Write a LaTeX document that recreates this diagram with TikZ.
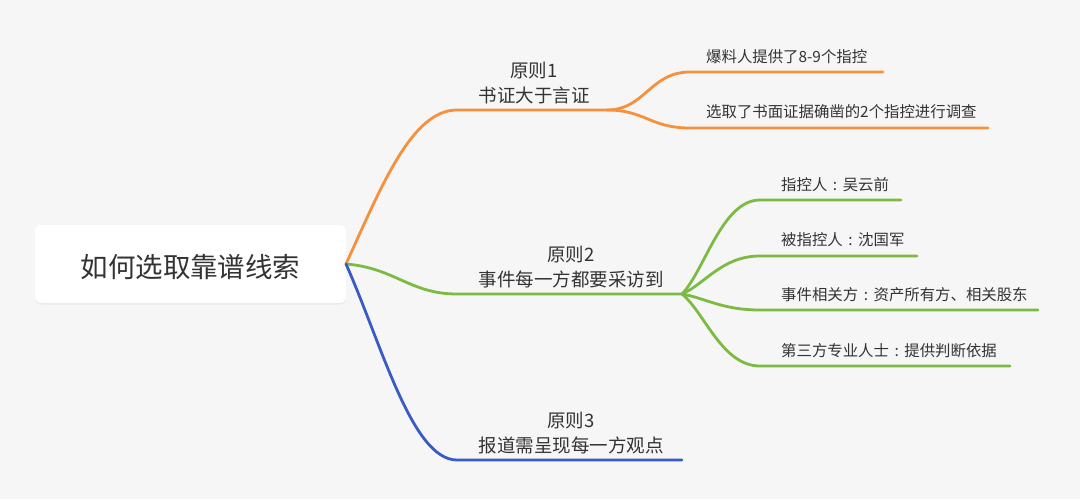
\documentclass[tikz,border=0pt]{standalone}
\usepackage{fontspec}
\setmainfont{Noto Sans CJK SC}
\usetikzlibrary{shadows}
\definecolor{bg}{HTML}{F6F6F6}
\definecolor{txt}{HTML}{333333}
\definecolor{cor}{HTML}{F7903D}
\definecolor{cgr}{HTML}{7CBB43}
\definecolor{cbl}{HTML}{3A5AC4}
\newcommand\zcolon{\makebox[1em][c]{:}}
\tikzset{
  branch/.style={line width=2.8pt, line cap=round},
  rootbox/.style={fill=white, rounded corners=6pt, minimum width=311pt, minimum height=78pt, inner sep=0pt,
    drop shadow={opacity=0.10, shadow xshift=0pt, shadow yshift=-1.5pt}},
  roottext/.style={font=\fontsize{27.5}{32}\selectfont, text=txt},
  ptext/.style={font=\fontsize{18.5}{25}\selectfont, text=txt, align=center, inner sep=0pt},
  stext/.style={font=\fontsize{15.4}{18}\selectfont, text=txt, anchor=west, inner sep=0pt},
}
\begin{document}
\begin{tikzpicture}[x=1pt,y=-1pt]
\useasboundingbox (0,0) rectangle (1080,499);
\fill[bg] (0,0) rectangle (1080,499);
% root
\node[rootbox] (root) at (190.5,264) {};
\node[roottext] (roott) at (190.5,267) {如何选取靠谱线索};
\coordinate (r) at (346,264);
% principle 1
\coordinate (p1a) at (457,110);
\coordinate (p1b) at (607,110);
\draw[branch,cor] (r) .. controls (382,185) and (412,110) .. (p1a) -- (p1b);
\node[ptext] (p1) at (534,83) {原则1\\书证大于言证};
\coordinate (s1a) at (690,72);
\coordinate (s1ae) at (883,72);
\coordinate (s1b) at (690,128);
\coordinate (s1be) at (988,128);
\draw[branch,cor] (p1b) .. controls (645,110) and (650,72) .. (s1a) -- (s1ae);
\draw[branch,cor] (p1b) .. controls (645,110) and (650,128) .. (s1b) -- (s1be);
\node[stext] (t11) at (706,57) {爆料人提供了8-9个指控};
\node[stext] (t12) at (706,112) {选取了书面证据确凿的2个指控进行调查};
% principle 2
\coordinate (p2a) at (457,294);
\coordinate (p2b) at (682,294);
\draw[branch,cgr] (r) .. controls (395,268) and (410,294) .. (p2a) -- (p2b);
\node[ptext] (p2) at (571,267) {原则2\\事件每一方都要采访到};
\coordinate (g1) at (760,200);  \coordinate (g1e) at (901,200);
\coordinate (g2) at (760,256);  \coordinate (g2e) at (917,256);
\coordinate (g3) at (760,310);  \coordinate (g3e) at (1038,310);
\coordinate (g4) at (760,366);  \coordinate (g4e) at (1010,366);
\draw[branch,cgr] (p2b) .. controls (705,270) and (722,200) .. (g1) -- (g1e);
\draw[branch,cgr] (p2b) .. controls (705,284) and (722,256) .. (g2) -- (g2e);
\draw[branch,cgr] (p2b) .. controls (705,298) and (722,310) .. (g3) -- (g3e);
\draw[branch,cgr] (p2b) .. controls (705,313) and (722,366) .. (g4) -- (g4e);
\node[stext] (t21) at (781,185) {指控人\zcolon 吴云前};
\node[stext] (t22) at (781,240) {被指控人\zcolon 沈国军};
\node[stext] (t23) at (781,295) {事件相关方\zcolon 资产所有方、相关股东};
\node[stext] (t24) at (781,351) {第三方专业人士\zcolon 提供判断依据};
% principle 3
\coordinate (p3a) at (457,460);
\coordinate (p3b) at (682,460);
\draw[branch,cbl] (r) .. controls (382,345) and (412,460) .. (p3a) -- (p3b);
\node[ptext] (p3) at (571,433) {原则3\\报道需呈现每一方观点};
\end{tikzpicture}
\end{document}
